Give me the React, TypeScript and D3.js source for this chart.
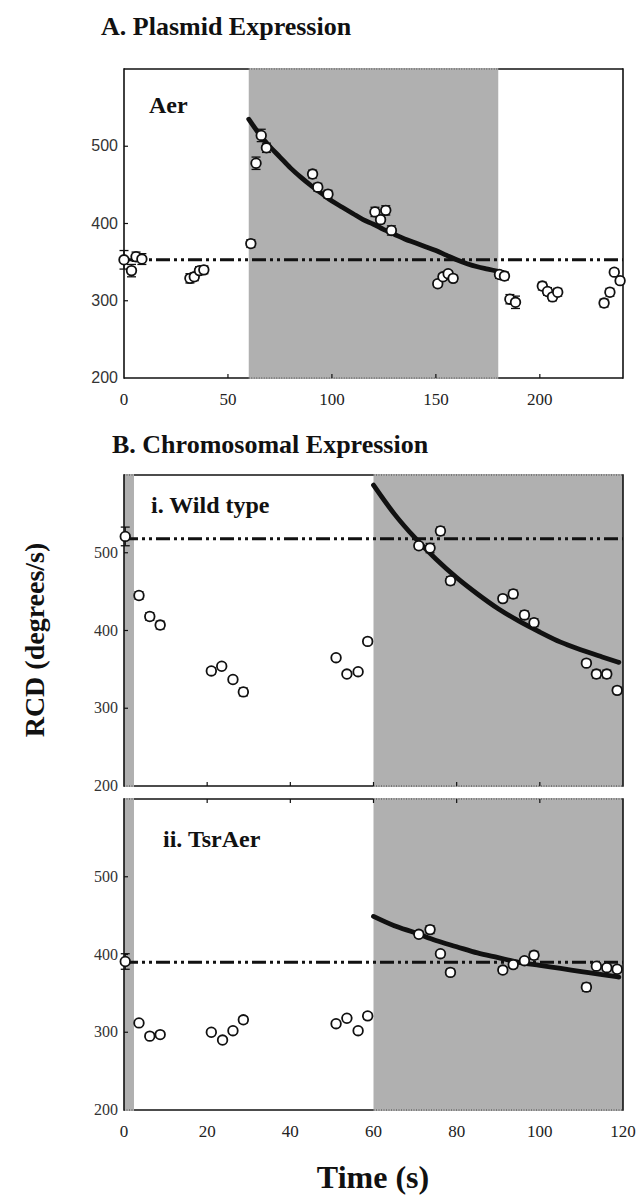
import React from "react";
import * as d3 from "d3";

// ---------------- data ----------------
// A. Plasmid expression (Aer)
const aTime = [0, 3.6, 5.8, 8.6, 31.7, 33.8, 36.3, 38.4, 61, 63.5, 66, 68.5, 90.7, 93.2, 98.1, 120.7, 123.4, 125.9, 128.6, 150.9, 153.4, 155.9, 158.3, 180.6, 183, 185.6, 188.3, 201.2, 203.7, 206.1, 208.6, 230.9, 233.7, 235.8, 238.6];
const aRcd = [353, 339, 357, 354, 329, 331, 339, 340, 374, 478, 514, 498, 464, 447, 438, 415, 405, 417, 391, 322, 331, 335, 329, 334, 332, 302, 298, 319, 312, 305, 311, 297, 311, 337, 326];
const aErr = [12, 8, 6, 7, 6, 5, 5, 5, 5, 8, 8, 6, 5, 5, 5, 6, 5, 6, 6, 4, 4, 4, 4, 5, 5, 6, 8, 5, 5, 5, 5, 5, 5, 4, 4];
const aFitT = [60, 65, 70, 75, 80, 85, 90, 95, 100, 105, 110, 115, 120, 125, 130, 135, 140, 145, 150, 155, 160, 165, 170, 175, 180];
const aFitV = [535, 516, 500, 486, 472, 460, 449, 439, 429, 421, 413, 405, 399, 392, 386, 380, 375, 370, 365, 359, 353, 348, 344, 341, 338];
const aBaseline = 353;
const aShade: [number, number][] = [[60, 180]];
const aXTicks = [0, 50, 100, 150, 200];
const yTicks = [200, 300, 400, 500];

// B i. Wild type
const wtTime = [0.3, 3.6, 6.2, 8.7, 21, 23.5, 26.2, 28.7, 51, 53.6, 56.3, 58.6, 70.9, 73.6, 76.1, 78.5, 91.1, 93.6, 96.3, 98.6, 111.2, 113.6, 116.1, 118.6];
const wtRcd = [521, 445, 418, 407, 348, 354, 337, 321, 365, 344, 347, 386, 509, 506, 528, 464, 441, 447, 420, 410, 358, 344, 344, 323];
const wtErr = [12, 5, 5, 5, 4, 3, 3, 5, 3, 3, 3, 3, 4, 6, 5, 5, 4, 5, 5, 5, 4, 5, 5, 4];
const wtFitT = [60, 65, 70, 75, 80, 85, 90, 95, 100, 105, 110, 115, 119];
const wtFitV = [587, 550, 519, 492, 468, 447, 428, 412, 398, 385, 375, 366, 359];
const wtBaseline = 518;

// B ii. TsrAer
const tsTime = [0.3, 3.6, 6.2, 8.7, 21, 23.7, 26.2, 28.7, 51, 53.6, 56.3, 58.6, 70.9, 73.6, 76.1, 78.5, 91.1, 93.6, 96.3, 98.6, 111.2, 113.6, 116.1, 118.6];
const tsRcd = [391, 312, 295, 297, 300, 290, 302, 316, 311, 318, 302, 321, 426, 432, 401, 377, 380, 387, 392, 399, 358, 385, 383, 381];
const tsErr = [10, 3, 3, 3, 3, 3, 3, 4, 3, 3, 3, 4, 4, 5, 4, 4, 4, 4, 4, 5, 5, 4, 4, 4];
const tsFitT = [60, 65, 70, 75, 80, 85, 90, 95, 100, 105, 110, 115, 119];
const tsFitV = [449, 437, 428, 418, 410, 402, 396, 390, 386, 382, 378, 374, 371];
const tsBaseline = 390;

const bShade: [number, number][] = [[0, 2.4], [60, 120]];
const bXTicks = [0, 20, 40, 60, 80, 100, 120];

// ---------------- styles ----------------
const SERIF = "'Liberation Serif', 'Times New Roman', serif";
const SANS = "'Liberation Sans', Arial, sans-serif";
const SHADE = "#b0b0b0";
const INK = "#111";

type PanelProps = {
  x0: number; x1: number; y0: number; y1: number;
  xDomain: [number, number];
  shades: [number, number][];
  time: number[]; rcd: number[]; err: number[];
  fitT: number[]; fitV: number[];
  baseline: number;
  yTickFont: string;
  xTicksBottom: number[];
  xTicksTop: number[];
  xLabels: number[] | null;
};

function Panel(p: PanelProps) {
  const x = d3.scaleLinear().domain(p.xDomain).range([p.x0, p.x1]);
  const y = d3.scaleLinear().domain([200, 600]).range([p.y1, p.y0]);
  const fit: [number, number][] = p.fitT.map((t, i) => [t, p.fitV[i]]);
  const line = d3
    .line<[number, number]>()
    .x((d) => x(d[0]))
    .y((d) => y(d[1]))
    .curve(d3.curveMonotoneX);
  const tick = 4;
  return (
    <g>
      {/* top & bottom frame (solid) */}
      <line x1={p.x0} x2={p.x1} y1={p.y0} y2={p.y0} stroke={INK} strokeWidth={1.6} />
      <line x1={p.x0} x2={p.x1} y1={p.y1} y2={p.y1} stroke={INK} strokeWidth={1.6} />
      {/* stimulus shading */}
      {p.shades.map(([a, b], i) => (
        <rect key={i} x={x(a)} y={p.y0 - 1} width={x(b) - x(a)} height={p.y1 - p.y0 + 2} fill={SHADE} />
      ))}
      {p.shades.map(([a, b], i) => (
        <g key={"d" + i}>
          <line x1={x(a)} x2={x(b)} y1={p.y0} y2={p.y0} stroke="#444" strokeWidth={1} strokeDasharray="1 1.5" />
          <line x1={x(a)} x2={x(b)} y1={p.y1} y2={p.y1} stroke="#444" strokeWidth={1} strokeDasharray="1 1.5" />
        </g>
      ))}
      {/* left & right axes */}
      <line x1={p.x0} x2={p.x0} y1={p.y0 - 0.8} y2={p.y1 + 0.8} stroke={INK} strokeWidth={1.6} />
      <line x1={p.x1} x2={p.x1} y1={p.y0 - 0.8} y2={p.y1 + 0.8} stroke={INK} strokeWidth={1.6} />
      {/* y ticks + labels */}
      {yTicks.map((v) => (
        <g key={"y" + v}>
          {v !== 200 && <line x1={p.x0} x2={p.x0 + tick} y1={y(v)} y2={y(v)} stroke={INK} strokeWidth={1.2} />}
          <text x={p.x0 - 6} y={y(v) + 5} textAnchor="end" fontFamily={p.yTickFont} fontSize={16} fill="#333">
            {v}
          </text>
        </g>
      ))}
      {/* x ticks */}
      {p.xTicksBottom.map((t) => (
        <line key={"xb" + t} x1={x(t)} x2={x(t)} y1={p.y1} y2={p.y1 - tick} stroke={INK} strokeWidth={1.2} />
      ))}
      {p.xTicksTop.map((t) => (
        <line key={"xt" + t} x1={x(t)} x2={x(t)} y1={p.y0} y2={p.y0 + tick} stroke={INK} strokeWidth={1.2} />
      ))}
      {p.xLabels &&
        p.xLabels.map((t) => (
          <text key={"xl" + t} x={x(t)} y={p.y1 + 27} textAnchor="middle" fontFamily={SERIF} fontSize={17} fill="#222">
            {t}
          </text>
        ))}
      {/* baseline */}
      <line
        x1={x(p.xDomain[0])}
        x2={x(p.xDomain[1])}
        y1={y(p.baseline)}
        y2={y(p.baseline)}
        stroke={INK}
        strokeWidth={3}
        strokeDasharray="14 4 3 4 3 4"
      />
      {/* fitted decay */}
      <path d={line(fit) || ""} fill="none" stroke={INK} strokeWidth={4.8} strokeLinecap="round" />
      {/* error bars */}
      {p.time.map((t, i) => {
        const cx = x(t);
        const hi = y(p.rcd[i] + p.err[i]);
        const lo = y(p.rcd[i] - p.err[i]);
        return (
          <g key={"e" + i} stroke={INK} strokeWidth={1.3}>
            <line x1={cx} x2={cx} y1={hi} y2={lo} />
            <line x1={cx - 4.5} x2={cx + 4.5} y1={hi} y2={hi} />
            <line x1={cx - 4.5} x2={cx + 4.5} y1={lo} y2={lo} />
          </g>
        );
      })}
      {/* points */}
      {p.time.map((t, i) => (
        <circle key={"p" + i} cx={x(t)} cy={y(p.rcd[i])} r={4.8} fill="#fff" stroke={INK} strokeWidth={1.8} />
      ))}
    </g>
  );
}

export default function App() {
  const W = 638;
  const H = 1198;
  const L = 124;
  const R = 623;
  return (
    <svg width={W} height={H} viewBox={`0 0 ${W} ${H}`} style={{ display: "block", position: "absolute", left: 0, top: 0, background: "#fff" }}>
      <rect x={0} y={0} width={W} height={H} fill="#fff" />
      <text x={101} y={35} fontFamily={SERIF} fontWeight="bold" fontSize={26} fill={INK}>
        A. Plasmid Expression
      </text>
      <Panel
        x0={L} x1={R} y0={69} y1={378}
        xDomain={[0, 240]}
        shades={aShade}
        time={aTime} rcd={aRcd} err={aErr}
        fitT={aFitT} fitV={aFitV}
        baseline={aBaseline}
        yTickFont={SANS}
        xTicksBottom={[50, 100, 150, 200]}
        xTicksTop={[]}
        xLabels={aXTicks}
      />
      <text x={149} y={113} fontFamily={SERIF} fontWeight="bold" fontSize={24} fill={INK}>
        Aer
      </text>

      <text x={112} y={453} fontFamily={SERIF} fontWeight="bold" fontSize={26} fill={INK}>
        B. Chromosomal Expression
      </text>
      <Panel
        x0={L} x1={R} y0={475} y1={786}
        xDomain={[0, 120]}
        shades={bShade}
        time={wtTime} rcd={wtRcd} err={wtErr}
        fitT={wtFitT} fitV={wtFitV}
        baseline={wtBaseline}
        yTickFont={SERIF}
        xTicksBottom={[20, 40, 60, 80, 100]}
        xTicksTop={[]}
        xLabels={null}
      />
      <text x={151} y={513} fontFamily={SERIF} fontWeight="bold" fontSize={24} fill={INK}>
        i. Wild type
      </text>
      <Panel
        x0={L} x1={R} y0={799} y1={1110}
        xDomain={[0, 120]}
        shades={bShade}
        time={tsTime} rcd={tsRcd} err={tsErr}
        fitT={tsFitT} fitV={tsFitV}
        baseline={tsBaseline}
        yTickFont={SERIF}
        xTicksBottom={[]}
        xTicksTop={[20, 40, 60, 80, 100]}
        xLabels={bXTicks}
      />
      <text x={163} y={847} fontFamily={SERIF} fontWeight="bold" fontSize={24} fill={INK}>
        ii. TsrAer
      </text>

      <text
        transform="translate(44,640) rotate(-90)"
        textAnchor="middle"
        fontFamily={SERIF}
        fontWeight="bold"
        fontSize={28}
        fill={INK}
      >
        RCD (degrees/s)
      </text>
      <text x={373} y={1188} textAnchor="middle" fontFamily={SERIF} fontWeight="bold" fontSize={32} fill={INK}>
        Time (s)
      </text>
    </svg>
  );
}
